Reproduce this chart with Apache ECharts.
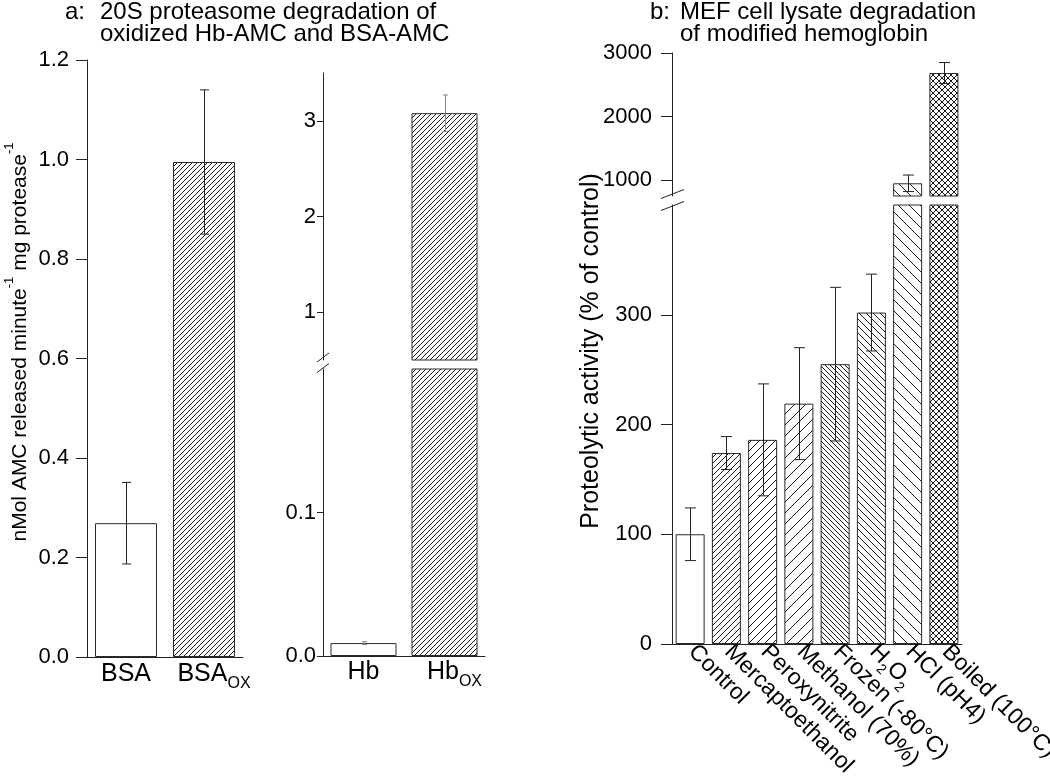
<!DOCTYPE html>
<html>
<head>
<meta charset="utf-8">
<script src="https://cdn.jsdelivr.net/npm/echarts@6/dist/echarts.min.js"></script>
<style>
html,body{margin:0;padding:0;background:#fff;}
#c{width:1050px;height:779px;}
</style>
</head>
<body>
<div id="c"></div>
<script>
// ---------- data ----------
// Panel a, left: 20S proteasome, BSA substrates
const catA1 = ['BSA', 'BSA_{OX}'];
const valA1 = [0.269, 0.995];
const errA1 = [0.082, 0.145];
// Panel a, right: 20S proteasome, Hb substrates (broken axis)
const catA2 = ['Hb', 'Hb_{OX}'];
const valA2 = [0.009, 3.08];
const errA2 = [0.001, 0.19];
// Panel b: MEF cell lysate, modified hemoglobin (broken axis)
const catB = ['Control', 'Mercaptoethanol', 'Peroxynitrite', 'Methanol (70%)',
              'Frozen (-80°C)', 'H_{2}O_{2}', 'HCl (pH4)', 'Boiled (100°C)'];
const valB = [100, 174, 186, 219, 255, 302, 950, 2685];
const errB = [24, 15, 51, 51, 70, 35, 130, 165];
// axis ranges and tick labels
const rangeA1 = [0, 1.2];
const ticksA1 = [0, 0.2, 0.4, 0.6, 0.8, 1.0, 1.2];
const rangeA2Upper = [0.5, 3.5];
const ticksA2Upper = [1, 2, 3];
const rangeA2Lower = [0, 0.2];
const ticksA2Lower = [0, 0.1];
const rangeBUpper = [750, 3000];
const ticksBUpper = [1000, 2000, 3000];
const rangeBLower = [0, 400];
const ticksBLower = [0, 100, 200, 300];

// ---------- styling helpers ----------
const FF = '"Liberation Sans", Arial, Helvetica, sans-serif';
const AXC = '#222';

function hatch(p, kinds) {
  const c = document.createElement('canvas');
  c.width = p; c.height = p;
  const g = c.getContext('2d');
  g.fillStyle = '#fff'; g.fillRect(0, 0, p, p);
  g.strokeStyle = '#1a1a1a'; g.lineWidth = 1;
  kinds.forEach(k => {
    g.beginPath();
    for (let o = -p; o <= p; o += p) {
      if (k === 'f') { g.moveTo(o - 1, p + 1); g.lineTo(o + p + 1, -1); }
      else { g.moveTo(o - 1, -1); g.lineTo(o + p + 1, p + 1); }
    }
    g.stroke();
  });
  return { image: c, repeat: 'repeat' };
}
const WHITE = '#ffffff';
const patA = [WHITE, hatch(5, ['f'])];
const patB = [WHITE, hatch(6, ['f']), hatch(8, ['f']), hatch(11, ['f']),
              hatch(5, ['b']), hatch(7, ['b']), hatch(11, ['b']), hatch(6, ['f', 'b'])];

function richText(s, lead) {
  const hasSub = /_\{/.test(s);
  const body = ('{m|' + s.replace(/_\{([^}]*)\}/g, '}{s|$1}{m|') + '}').replace(/\{m\|\}/g, '');
  return (lead && hasSub ? '{sp| }' : '') + body;
}

const grids = [
  { left: 87,  top: 60,  width: 156, height: 597 },  // a left
  { left: 323, top: 73,  width: 162, height: 287 },  // a right upper
  { left: 323, top: 369, width: 162, height: 287 },  // a right lower
  { left: 672, top: 53,  width: 290, height: 143 },  // b upper
  { left: 672, top: 205, width: 290, height: 439 }   // b lower
].map(g => Object.assign({ containLabel: false, outerBoundsMode: 'none' }, g));

function xCat(gi, data, show, labelOpt, lead) {
  return {
    type: 'category', gridIndex: gi, data: data, show: show,
    axisLine: { show: true, onZero: false, lineStyle: { color: AXC, width: 1 } },
    axisTick: { show: false },
    axisLabel: Object.assign({
      interval: 0, formatter: v => richText(v, lead), color: '#000',
      rich: {
        m: { fontSize: 25, fontFamily: FF, color: '#000', lineHeight: 30, verticalAlign: 'top' },
        s: { fontSize: 16, fontFamily: FF, color: '#000', lineHeight: 30, verticalAlign: 'bottom' },
        sp: { width: 20, fontSize: 10, lineHeight: 30 }
      }
    }, labelOpt || {}),
    splitLine: { show: false }
  };
}
function yVal(gi, range, ticks, fmt, tickLen, margin) {
  return {
    type: 'value', gridIndex: gi, min: range[0], max: range[1],
    axisLine: { show: true, lineStyle: { color: AXC, width: 1 } },
    axisTick: { show: true, inside: false, length: tickLen, customValues: ticks, lineStyle: { color: AXC, width: 1 } },
    axisLabel: { customValues: ticks, formatter: fmt, color: '#000', fontSize: 22, fontFamily: FF, margin: margin },
    splitLine: { show: false }
  };
}
function barSeries(ai, vals, pats, width) {
  return {
    type: 'bar', xAxisIndex: ai, yAxisIndex: ai, barWidth: width, clip: true,
    data: vals.map((v, i) => ({ value: v, itemStyle: { color: pats[i] } })),
    itemStyle: { borderColor: '#2a2a2a', borderWidth: 1 },
    emphasis: { disabled: true }, z: 2
  };
}
function errSeries(ai, vals, errs, range, cap, color) {
  const data = [];
  vals.forEach((v, i) => {
    const lo = v - errs[i], hi = v + errs[i];
    if (lo >= range[0] && hi <= range[1]) data.push([i, lo, hi]);
  });
  return {
    type: 'custom', xAxisIndex: ai, yAxisIndex: ai, z: 5, data: data,
    encode: { x: 0, y: [1, 2] },
    renderItem: function (params, api) {
      const i = api.value(0);
      const a = api.coord([i, api.value(1)]);
      const b = api.coord([i, api.value(2)]);
      const x = Math.round(a[0]) + 0.5;
      const st = { stroke: color, lineWidth: 1 };
      return {
        type: 'group', children: [
          { type: 'line', shape: { x1: x, y1: a[1], x2: x, y2: b[1] }, style: st },
          { type: 'line', shape: { x1: x - cap, y1: a[1], x2: x + cap, y2: a[1] }, style: st },
          { type: 'line', shape: { x1: x - cap, y1: b[1], x2: x + cap, y2: b[1] }, style: st }
        ]
      };
    }
  };
}
function slash(xc, yc, hw, hh) {
  return { type: 'line', shape: { x1: xc - hw, y1: yc + hh, x2: xc + hw, y2: yc - hh },
           style: { stroke: AXC, lineWidth: 1 }, z: 10 };
}
function txt(x, y, text, size, extra) {
  return Object.assign({ type: 'text', x: x, y: y, z: 10,
    style: { text: text, fontSize: size, fontFamily: FF, fill: '#000', verticalAlign: 'middle', align: 'left' } }, extra || {});
}
const f1 = v => v.toFixed(1);
const f0 = v => String(Math.round(v));

const option = {
  animation: false,
  backgroundColor: '#fff',
  grid: grids,
  xAxis: [
    xCat(0, catA1, true, { margin: 5 }, true),
    xCat(1, catA2, false),
    xCat(2, catA2, true, { margin: 4 }, true),
    xCat(3, catB, false),
    xCat(4, catB, true, {
      rotate: -45, margin: 6,
      rich: {
        m: { fontSize: 23, fontFamily: FF, color: '#000', lineHeight: 28, verticalAlign: 'top' },
        s: { fontSize: 14, fontFamily: FF, color: '#000', lineHeight: 28, verticalAlign: 'bottom' }
      }
    })
  ],
  yAxis: [
    yVal(0, rangeA1, ticksA1, f1, 11, 18),
    yVal(1, rangeA2Upper, ticksA2Upper, f0, 6, 7),
    yVal(2, rangeA2Lower, ticksA2Lower, f1, 6, 7),
    yVal(3, rangeBUpper, ticksBUpper, f0, 11, 20),
    yVal(4, rangeBLower, ticksBLower, f0, 11, 20)
  ],
  series: [
    barSeries(0, valA1, patA, 62),
    errSeries(0, valA1, errA1, rangeA1, 4.5, '#222'),
    barSeries(1, valA2, patA, 66),
    barSeries(2, valA2, patA, 66),
    errSeries(1, valA2, errA2, rangeA2Upper, 2.5, '#888'),
    errSeries(2, valA2, errA2, rangeA2Lower, 2.5, '#888'),
    barSeries(3, valB, patB, 29),
    barSeries(4, valB, patB, 29),
    errSeries(3, valB, errB, rangeBUpper, 5.5, '#222'),
    errSeries(4, valB, errB, rangeBLower, 5.5, '#222')
  ],
  graphic: [
    txt(65, 12.5, 'a:', 24),
    txt(100, 12.5, '20S proteasome degradation of', 24),
    txt(100, 34, 'oxidized Hb-AMC and BSA-AMC', 24),
    txt(650, 12.5, 'b:', 24),
    txt(680, 12.5, 'MEF cell lysate degradation', 24),
    txt(680, 34, 'of modified hemoglobin', 24),
    {
      type: 'text', x: 17, y: 342, rotation: Math.PI / 2, z: 10,
      style: {
        text: '{m|nMol AMC released minute}{p|-1}{m| mg protease}{p|-1}',
        align: 'center', verticalAlign: 'middle', fill: '#000',
        rich: {
          m: { fontSize: 21, fontFamily: FF, fill: '#000', lineHeight: 28, verticalAlign: 'bottom' },
          p: { fontSize: 13, fontFamily: FF, fill: '#000', lineHeight: 28, verticalAlign: 'top' }
        }
      }
    },
    {
      type: 'text', x: 591, y: 351, rotation: Math.PI / 2, z: 10,
      style: { text: 'Proteolytic activity (% of control)', fontSize: 25, fontFamily: FF,
               fill: '#000', align: 'center', verticalAlign: 'middle' }
    },
    slash(323, 357.5, 6, 4.5),
    slash(323, 368, 6, 4.5),
    slash(672.5, 194, 11.5, 4.5),
    slash(672.5, 206, 11.5, 4.5)
  ]
};

const chart = echarts.init(document.getElementById('c'), null, { renderer: 'canvas' });
chart.setOption(option);
</script>
</body>
</html>
